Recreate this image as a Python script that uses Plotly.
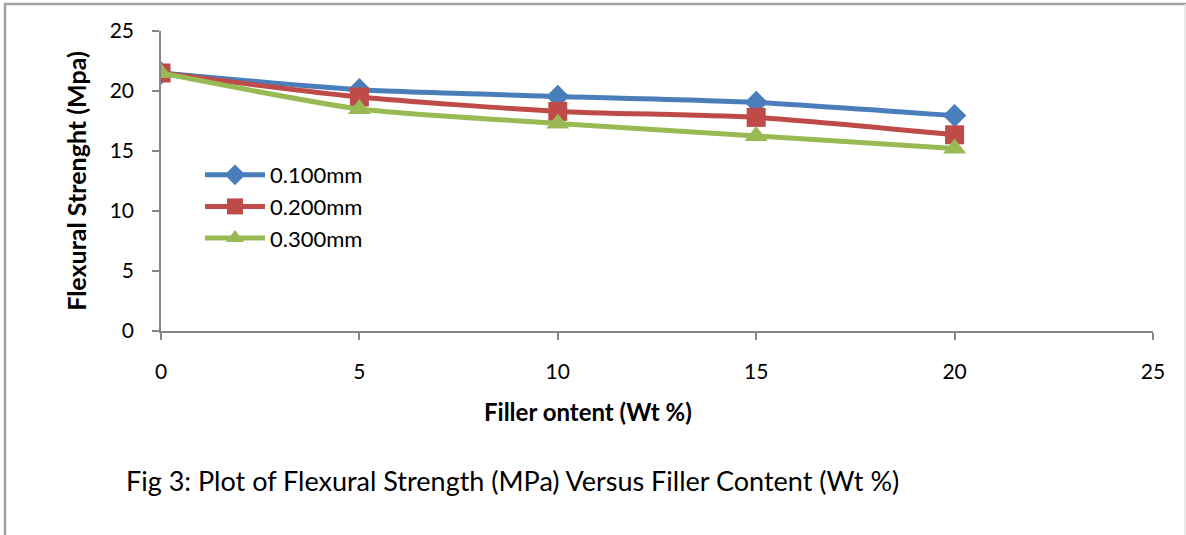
import plotly.graph_objects as go

filler = [0, 5, 10, 15, 20]
s_100 = [21.5, 20.1, 19.55, 19.05, 17.95]
s_200 = [21.5, 19.5, 18.3, 17.8, 16.35]
s_300 = [21.5, 18.5, 17.3, 16.25, 15.2]
names = ["0.100mm", "0.200mm", "0.300mm"]
colors = ["#4A7EBB", "#BE4B48", "#98B954"]
symbols = ["diamond", "square", "triangle-up"]
msizes = [18, 19, 20]

FONT = "Lato"

fig = go.Figure()
for ys, nm, col, sym, ms in zip([s_100, s_200, s_300], names, colors, symbols, msizes):
    fig.add_trace(go.Scatter(
        x=filler, y=ys, name=nm, mode="lines+markers",
        line=dict(color=col, width=5, shape="spline", smoothing=0.6),
        marker=dict(symbol=sym, size=ms, color=col, line=dict(width=0)),
    ))

W, H = 1186, 535
L, R, T, B = 161, 1153, 31, 331
pw, ph = R - L, B - T

def px(x):
    return (x - L) / pw

def py(y):
    return (B - y) / ph

fig.update_layout(
    width=W, height=H,
    margin=dict(l=L, r=W - R, t=T, b=H - B),
    paper_bgcolor="white", plot_bgcolor="white",
    font=dict(family=FONT, color="#000000"),
    showlegend=True,
    legend=dict(x=px(200), y=py(154), xanchor="left", yanchor="top",
                bgcolor="rgba(0,0,0,0)", font=dict(size=22, family=FONT),
                tracegroupgap=0, itemwidth=60),
    xaxis=dict(range=[0, 25], tickvals=[0, 5, 10, 15, 20, 25], showgrid=False,
               zeroline=False, showline=True, linecolor="#868686", linewidth=1.5,
               ticks="outside", ticklen=7, tickcolor="#868686", tickwidth=1.5,
               tickfont=dict(size=21, family=FONT), ticklabelstandoff=14),
    yaxis=dict(range=[0, 25], tickvals=[0, 5, 10, 15, 20, 25], showgrid=False,
               zeroline=False, showline=True, linecolor="#868686", linewidth=1.5,
               ticks="outside", ticklen=7, tickcolor="#868686", tickwidth=1.5,
               tickfont=dict(size=21, family=FONT), ticklabelstandoff=14,
               title=dict(text="<b>Flexural Strenght (Mpa)</b>", font=dict(size=25, family=FONT),
                          standoff=16)),
    annotations=[
        dict(text="<b>Filler ontent (Wt %)</b>", x=px(588), y=py(411), xref="paper", yref="paper",
             showarrow=False, xanchor="center", yanchor="middle", font=dict(size=24, family=FONT)),
        dict(text="Fig 3: Plot of Flexural Strength (MPa) Versus Filler Content (Wt %)",
             x=px(124), y=py(480), xref="paper", yref="paper", showarrow=False,
             xanchor="left", yanchor="middle", font=dict(size=27, family=FONT)),
    ],
    shapes=[
        dict(type="line", xref="paper", yref="paper", x0=px(5), x1=px(5), y0=py(4), y1=py(540),
             line=dict(color="#A0A0A0", width=2.5)),
        dict(type="line", xref="paper", yref="paper", x0=px(4), x1=px(1186), y0=py(4), y1=py(4),
             line=dict(color="#A0A0A0", width=2.5)),
        dict(type="line", xref="paper", yref="paper", x0=px(1185), x1=px(1185), y0=py(4), y1=py(540),
             line=dict(color="#E0E0E0", width=1.5)),
    ],
)

fig.write_html("out.html", config={"displayModeBar": False},
               post_script="document.body.style.margin='0px';document.body.style.overflow='hidden';")
